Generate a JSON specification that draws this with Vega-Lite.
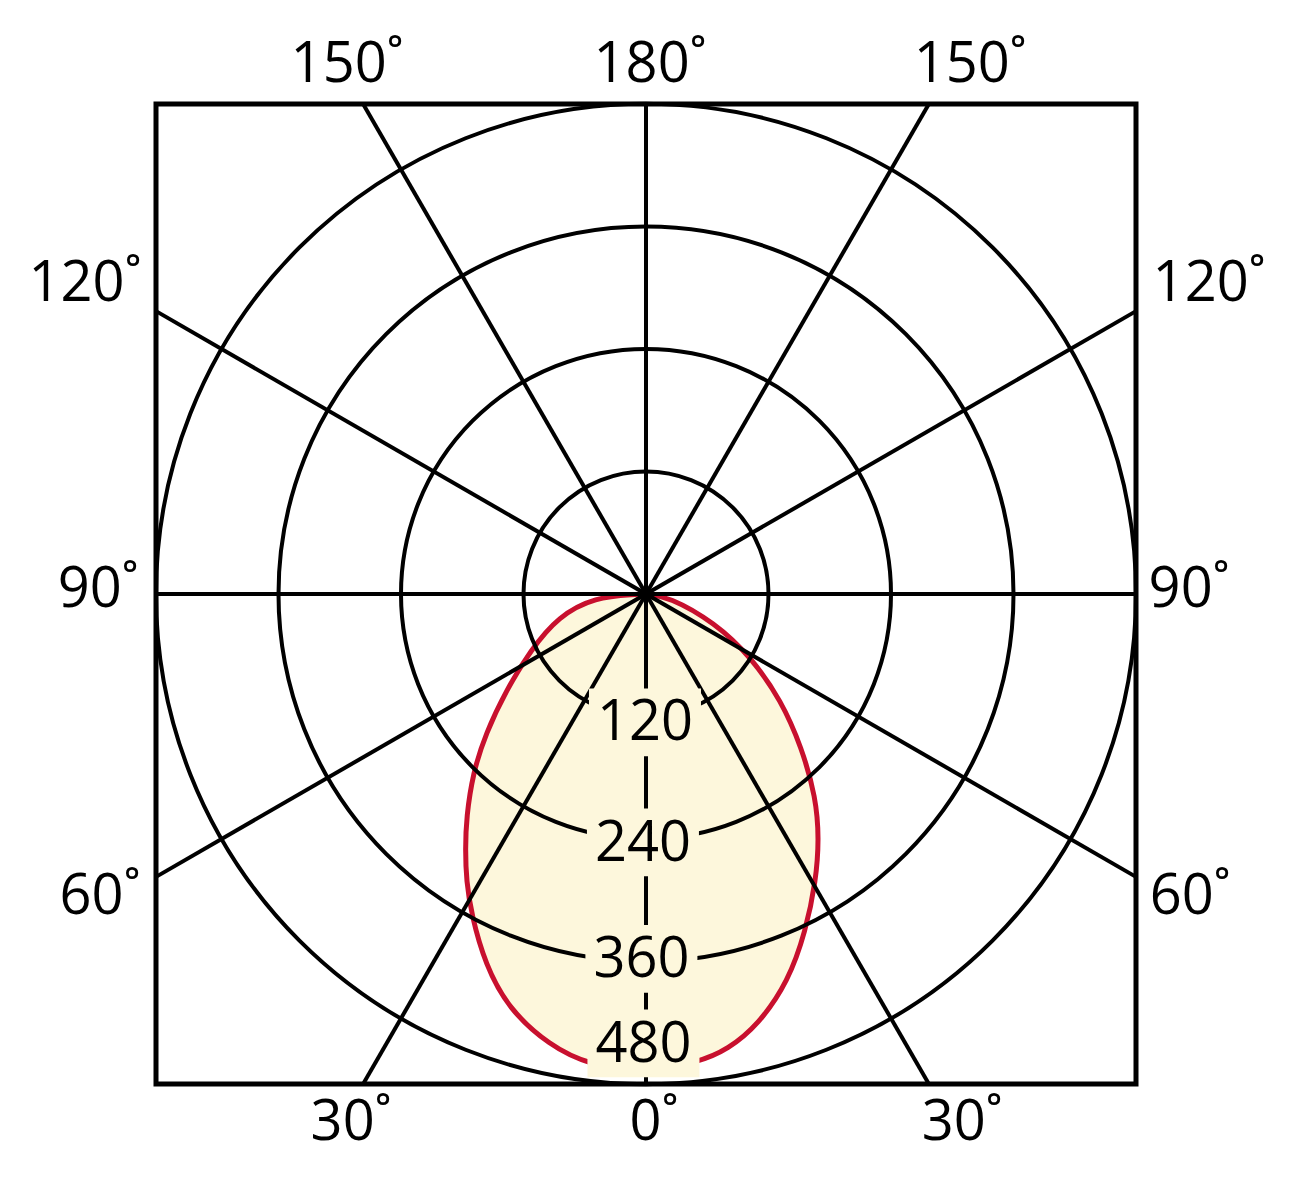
{
  "$schema": "https://vega.github.io/schema/vega-lite/v6.json",
  "width": 980,
  "height": 980,
  "autosize": {"type": "none"},
  "padding": {"left": 156, "top": 104, "right": 164, "bottom": 106},
  "background": "white",
  "config": {"view": {"stroke": "#000000", "strokeWidth": 5}, "font": "Open Sans"},
  "datasets": {
    "curve": [
      {"i": 0, "x": 0, "y": 0},
      {"i": 1, "x": -10, "y": -0.5},
      {"i": 2, "x": -50.0, "y": -3.0},
      {"i": 3, "x": -86.0, "y": -22.0},
      {"i": 4, "x": -113.0, "y": -55.0},
      {"i": 5, "x": -137.0, "y": -94.5},
      {"i": 6, "x": -157.0, "y": -136.6},
      {"i": 7, "x": -169.5, "y": -175.0},
      {"i": 8, "x": -176.0, "y": -218.9},
      {"i": 9, "x": -177.0, "y": -250.0},
      {"i": 10, "x": -176.0, "y": -281.0},
      {"i": 11, "x": -171.0, "y": -314.0},
      {"i": 12, "x": -157.5, "y": -363.0},
      {"i": 13, "x": -134.5, "y": -406.5},
      {"i": 14, "x": -95.0, "y": -442.0},
      {"i": 15, "x": -55.0, "y": -462.0},
      {"i": 16, "x": 0, "y": -468.0},
      {"i": 17, "x": 51.0, "y": -459.0},
      {"i": 18, "x": 80.5, "y": -446.0},
      {"i": 19, "x": 110.0, "y": -422.0},
      {"i": 20, "x": 139.5, "y": -379.5},
      {"i": 21, "x": 156.5, "y": -330.0},
      {"i": 22, "x": 166.5, "y": -281.0},
      {"i": 23, "x": 169.5, "y": -240.0},
      {"i": 24, "x": 166.5, "y": -199.4},
      {"i": 25, "x": 152.5, "y": -150.4},
      {"i": 26, "x": 132.5, "y": -104.3},
      {"i": 27, "x": 103.0, "y": -62.0},
      {"i": 28, "x": 67.5, "y": -28.0},
      {"i": 29, "x": 22.0, "y": -2.5},
      {"i": 30, "x": 0, "y": 0}
    ],
    "rings": [{"r": 120}, {"r": 240}, {"r": 360}, {"r": 480}],
    "spokes": [
      {"x": 0, "y": -480, "x2": 0, "y2": 480},
      {"x": -480, "y": 0, "x2": 480, "y2": 0},
      {"x": -277.1, "y": -480, "x2": 277.1, "y2": 480},
      {"x": 277.1, "y": -480, "x2": -277.1, "y2": 480},
      {"x": -480, "y": -277.1, "x2": 480, "y2": 277.1},
      {"x": 480, "y": -277.1, "x2": -480, "y2": 277.1}
    ],
    "vlabels": [
      {"t": "120", "x": -1.0, "y": -123.9},
      {"t": "240", "x": -3.0, "y": -241.5},
      {"t": "360", "x": -4.5, "y": -355.6},
      {"t": "480", "x": -2.5, "y": -438.4}
    ],
    "alabels": [
      {"t": "150˚", "x": -302.7, "y": 521.6},
      {"t": "180˚", "x": -5.9, "y": 521.6},
      {"t": "150˚", "x": 307.6, "y": 521.6},
      {"t": "120˚", "x": -559.4, "y": 307.1},
      {"t": "120˚", "x": 541.7, "y": 307.1},
      {"t": "90˚", "x": -546.6, "y": 7.3},
      {"t": "90˚", "x": 522.1, "y": 7.3},
      {"t": "60˚", "x": -544.7, "y": -293.4},
      {"t": "60˚", "x": 523.2, "y": -293.4},
      {"t": "30˚", "x": -298.8, "y": -515.2},
      {"t": "0˚", "x": -2.0, "y": -515.2},
      {"t": "30˚", "x": 299.8, "y": -515.2}
    ]
  },
  "layer": [
    {
      "data": {"name": "curve"},
      "mark": {"type": "line", "interpolate": "basis", "fill": "#fdf7dc", "stroke": "#c8102e", "strokeWidth": 5},
      "encoding": {
        "x": {"field": "x", "type": "quantitative", "scale": {"domain": [-480, 480], "nice": false, "zero": false}, "axis": null},
        "y": {"field": "y", "type": "quantitative", "scale": {"domain": [-480, 480], "nice": false, "zero": false}, "axis": null},
        "order": {"field": "i", "type": "quantitative"}
      }
    },
    {
      "data": {"name": "rings"},
      "mark": {"type": "point", "shape": "circle", "filled": false, "stroke": "#000000", "strokeWidth": 4, "opacity": 1},
      "encoding": {
        "x": {"datum": 0, "type": "quantitative"},
        "y": {"datum": 0, "type": "quantitative"},
        "size": {"field": "r", "type": "quantitative", "scale": {"type": "pow", "exponent": 2, "domain": [0, 480], "range": [0, 960400]}, "legend": null}
      }
    },
    {
      "data": {"name": "spokes"},
      "mark": {"type": "rule", "stroke": "#000000", "strokeWidth": 4},
      "encoding": {
        "x": {"field": "x", "type": "quantitative"},
        "y": {"field": "y", "type": "quantitative"},
        "x2": {"field": "x2"},
        "y2": {"field": "y2"}
      }
    },
    {
      "data": {"name": "vlabels"},
      "mark": {"type": "point", "shape": "M-1,-0.571H1V0.64H-1Z", "size": 12544, "filled": true, "fill": "#fdf7dc", "strokeWidth": 0, "opacity": 1},
      "encoding": {
        "x": {"field": "x", "type": "quantitative"},
        "y": {"field": "y", "type": "quantitative"}
      }
    },
    {
      "data": {"name": "vlabels"},
      "mark": {"type": "text", "fontSize": 56, "font": "Open Sans", "baseline": "middle", "align": "center", "dy": 3, "fill": "#000000"},
      "encoding": {
        "x": {"field": "x", "type": "quantitative"},
        "y": {"field": "y", "type": "quantitative"},
        "text": {"field": "t"}
      }
    },
    {
      "data": {"name": "alabels"},
      "mark": {"type": "text", "fontSize": 56, "font": "Open Sans", "baseline": "middle", "align": "center", "dy": 3, "dx": 10, "fill": "#000000"},
      "encoding": {
        "x": {"field": "x", "type": "quantitative"},
        "y": {"field": "y", "type": "quantitative"},
        "text": {"field": "t"}
      }
    }
  ]
}
